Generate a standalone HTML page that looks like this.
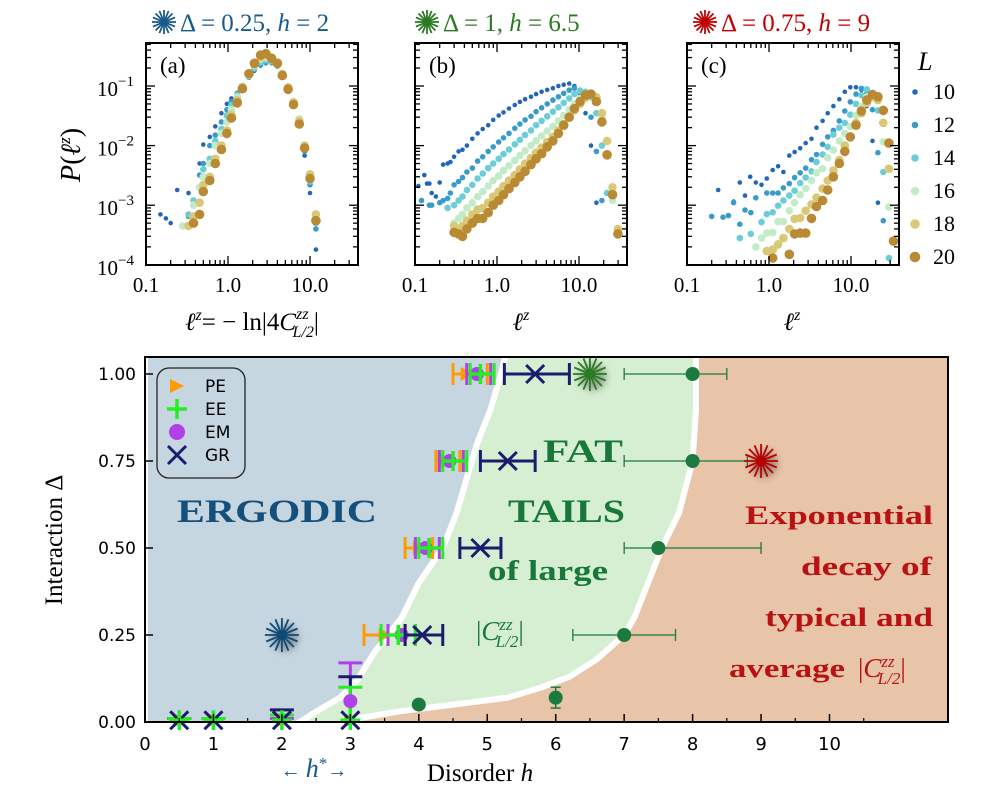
<!DOCTYPE html>
<html><head><meta charset="utf-8"><style>
body{margin:0;background:#fff}
svg text{font-family:"Liberation Serif",serif}
.sans{font-family:"DejaVu Sans","Liberation Sans",sans-serif}
</style></head><body>
<svg id="fig" width="994" height="803" viewBox="0 0 994 803" xmlns="http://www.w3.org/2000/svg">
<defs>
<filter id="glow" x="-1" y="-1" width="3" height="3"><feGaussianBlur stdDeviation="4"/></filter>
</defs>
<g id="topg"></g>
<g id="bot"></g>
</svg>
<script>
// ---------- top panels data ([x, P] pairs) ----------
const Ls = [10,12,14,16,18,20];
const LColors = ["#2166b8","#3a9bcb","#6ccdd6","#c4ebc8","#d9c875","#b98a33"];
const LRadius = [2.3,2.8,3.3,3.8,4.3,4.8];
const panelA_L10=[[0.15,7e-4],[0.175,6e-4],[0.2,5e-4],[0.24,1.8e-3],[0.33,1.6e-3],[0.45,5e-3],[0.5,1.04e-2],[0.6,1.4e-2],[0.7,2.1e-2],[0.83,3.5e-2],[0.97,5e-2],[1.1,6.2e-2],[1.3,7.7e-2],[1.5,0.1],[1.8,0.14],[2.1,0.18],[2.5,0.22],[2.9,0.24],[3.4,0.24],[4.0,0.21],[4.6,0.14],[5.4,0.085],[6.3,0.048],[7.4,0.022],[8.6,6.8e-3],[10,1.6e-3],[11.8,1.8e-4]];
const panelA_L12=[[0.33,6.5e-4],[0.38,1e-3],[0.45,3.2e-3],[0.5,5e-3],[0.6,1e-2],[0.7,1.5e-2],[0.83,2.5e-2],[0.97,4e-2],[1.1,5.5e-2],[1.3,7.5e-2],[1.5,0.1],[1.8,0.14],[2.1,0.19],[2.5,0.23],[2.9,0.25],[3.4,0.25],[4.0,0.22],[4.6,0.15],[5.4,0.09],[6.3,0.05],[7.4,0.024],[8.6,8e-3],[10,2.2e-3],[11.8,4e-4]];
const panelA_L14=[[0.28,4.5e-4],[0.33,7e-4],[0.38,1.2e-3],[0.45,2e-3],[0.5,4e-3],[0.6,6e-3],[0.7,1.2e-2],[0.83,1.9e-2],[0.97,3.2e-2],[1.1,4.8e-2],[1.3,7e-2],[1.5,0.1],[1.8,0.15],[2.1,0.2],[2.5,0.25],[2.9,0.27],[3.4,0.26],[4.0,0.22],[4.6,0.15],[5.4,0.09],[6.3,0.05],[7.4,0.025],[8.6,9e-3],[10,2.5e-3],[11.8,5e-4]];
const panelA_L16=[[0.28,4.5e-4],[0.38,1e-3],[0.45,2e-3],[0.5,3e-3],[0.6,5e-3],[0.7,1e-2],[0.83,1.6e-2],[0.97,2.5e-2],[1.1,4e-2],[1.3,6.5e-2],[1.5,0.1],[1.8,0.15],[2.1,0.22],[2.5,0.28],[2.9,0.3],[3.4,0.28],[4.0,0.23],[4.6,0.16],[5.4,0.095],[6.3,0.055],[7.4,0.028],[8.6,0.01],[10,3e-3],[11.8,6e-4]];
const panelA_L18=[[0.33,4.5e-4],[0.38,6.5e-4],[0.45,1.1e-3],[0.5,2.2e-3],[0.6,3e-3],[0.7,6e-3],[0.83,1e-2],[0.97,1.8e-2],[1.1,3.3e-2],[1.3,5.8e-2],[1.5,0.095],[1.8,0.16],[2.1,0.23],[2.5,0.3],[2.9,0.33],[3.4,0.3],[4.0,0.24],[4.6,0.16],[5.4,0.095],[6.3,0.053],[7.4,0.026],[8.6,0.01],[10,3.3e-3],[11.8,7e-4]];
const panelA_L20=[[0.38,5e-4],[0.45,7e-4],[0.5,1.7e-3],[0.6,2.6e-3],[0.7,5e-3],[0.83,8.6e-3],[0.97,1.6e-2],[1.1,2.9e-2],[1.3,5.2e-2],[1.5,0.09],[1.8,0.16],[2.1,0.24],[2.5,0.33],[2.9,0.35],[3.4,0.29],[4.0,0.24],[4.6,0.15],[5.4,0.088],[6.3,0.049],[7.4,0.023],[8.6,9.1e-3],[10,2.8e-3],[11.8,5.5e-4]];
const panelB_L10=[[0.11,2.1e-3],[0.12,1.2e-3],[0.13,3.2e-3],[0.14,2.3e-3],[0.15,2.3e-3],[0.16,1.6e-3],[0.18,1.4e-3],[0.2,2.4e-3],[0.22,4.8e-3],[0.25,5e-3],[0.27,5.3e-3],[0.3,6.5e-3],[0.34,8e-3],[0.38,8.5e-3],[0.43,1e-2],[0.5,1.3e-2],[0.58,1.6e-2],[0.67,1.9e-2],[0.78,2.2e-2],[0.9,2.7e-2],[1.05,3.2e-2],[1.2,3.6e-2],[1.4,4.2e-2],[1.65,4.8e-2],[1.9,5.4e-2],[2.2,6e-2],[2.6,6.6e-2],[3.0,7.3e-2],[3.5,8e-2],[4.1,8.6e-2],[4.8,9.2e-2],[5.6,0.1],[6.5,0.105],[7.6,0.11],[8.8,0.1],[10.3,0.07],[12,0.035],[14,0.01],[16.3,1.1e-3]];
const panelB_L12=[[0.12,1.2e-3],[0.15,1e-3],[0.16,1e-3],[0.2,1.1e-3],[0.22,1.2e-3],[0.25,1.3e-3],[0.27,1.6e-3],[0.3,2.2e-3],[0.34,2.5e-3],[0.38,2.9e-3],[0.43,3.6e-3],[0.5,4.2e-3],[0.58,5.5e-3],[0.67,6.5e-3],[0.78,8e-3],[0.9,9.5e-3],[1.05,1.15e-2],[1.2,1.35e-2],[1.4,1.6e-2],[1.65,1.95e-2],[1.9,2.3e-2],[2.2,2.7e-2],[2.6,3.1e-2],[3.0,3.7e-2],[3.5,4.3e-2],[4.1,5e-2],[4.8,5.8e-2],[5.6,6.6e-2],[6.5,7.5e-2],[7.6,8.5e-2],[8.8,9.2e-2],[10.3,8.5e-2],[12,6.5e-2],[14,3e-2],[16.3,8e-3],[19,1.2e-3]];
const panelB_L14=[[0.25,9e-4],[0.3,1e-3],[0.34,1.2e-3],[0.38,1.4e-3],[0.43,1.8e-3],[0.5,2.2e-3],[0.58,2.8e-3],[0.67,3.4e-3],[0.78,4.2e-3],[0.9,5e-3],[1.05,6e-3],[1.2,7.2e-3],[1.4,8.6e-3],[1.65,1.05e-2],[1.9,1.25e-2],[2.2,1.5e-2],[2.6,1.8e-2],[3.0,2.2e-2],[3.5,2.6e-2],[4.1,3.1e-2],[4.8,3.7e-2],[5.6,4.4e-2],[6.5,5.2e-2],[7.6,6.2e-2],[8.8,7.3e-2],[10.3,8.2e-2],[12,8e-2],[14,6.5e-2],[16.3,3.5e-2],[19,1e-2],[22,1.6e-3]];
const panelB_L16=[[0.3,5e-4],[0.34,6e-4],[0.38,7e-4],[0.43,9e-4],[0.5,1.1e-3],[0.58,1.4e-3],[0.67,1.7e-3],[0.78,2.1e-3],[0.9,2.6e-3],[1.05,3.1e-3],[1.2,3.8e-3],[1.4,4.6e-3],[1.65,5.6e-3],[1.9,6.8e-3],[2.2,8.2e-3],[2.6,1e-2],[3.0,1.2e-2],[3.5,1.45e-2],[4.1,1.75e-2],[4.8,2.1e-2],[5.6,2.6e-2],[6.5,3.2e-2],[7.6,4e-2],[8.8,5e-2],[10.3,6.2e-2],[12,7.2e-2],[14,7.5e-2],[16.3,6e-2],[19,3e-2],[22,7e-3],[25.6,1.2e-3]];
const panelB_L18=[[0.3,4.5e-4],[0.34,4e-4],[0.38,4.5e-4],[0.43,5.5e-4],[0.5,7e-4],[0.58,8.5e-4],[0.67,9e-4],[0.78,1.1e-3],[0.9,1.4e-3],[1.05,1.7e-3],[1.2,2.1e-3],[1.4,2.6e-3],[1.65,3.2e-3],[1.9,4e-3],[2.2,5e-3],[2.6,6.2e-3],[3.0,7.6e-3],[3.5,9.3e-3],[4.1,1.15e-2],[4.8,1.4e-2],[5.6,1.8e-2],[6.5,2.3e-2],[7.6,3e-2],[8.8,3.9e-2],[10.3,5e-2],[12,6.3e-2],[14,7.2e-2],[16.3,6.5e-2],[19,3.5e-2],[22,1.2e-2],[25.6,2e-3],[29.8,4e-4]];
const panelB_L20=[[0.3,3.5e-4],[0.34,3.3e-4],[0.38,3e-4],[0.43,4e-4],[0.5,5e-4],[0.58,6e-4],[0.67,6e-4],[0.78,7.5e-4],[0.9,1e-3],[1.05,1.2e-3],[1.2,1.5e-3],[1.4,1.9e-3],[1.65,2.4e-3],[1.9,3e-3],[2.2,3.7e-3],[2.6,4.8e-3],[3.0,6e-3],[3.5,7.3e-3],[4.1,9.5e-3],[4.8,1.2e-2],[5.6,1.6e-2],[6.5,2.2e-2],[7.6,3e-2],[8.8,4.2e-2],[10.3,5.5e-2],[12,7e-2],[14,7.3e-2],[16.3,5.5e-2],[19,2.5e-2],[22,7e-3],[25.6,1.5e-3],[29.8,3.3e-4]];
const panelC_L10=[[0.24,1.8e-3],[0.37,1.15e-3],[0.44,2.4e-3],[0.51,1.45e-3],[0.59,3e-3],[0.69,2.4e-3],[0.81,2.2e-3],[0.94,2.8e-3],[1.11,3.9e-3],[1.29,4.5e-3],[1.5,3.6e-3],[1.77,6.8e-3],[2.05,7.8e-3],[2.4,9e-3],[2.8,1.1e-2],[3.3,1.3e-2],[3.8,2e-2],[4.5,2.6e-2],[5.2,3.5e-2],[6.1,4.6e-2],[7.2,6e-2],[8.4,8e-2],[9.8,9.5e-2],[11.5,9.5e-2],[13.4,8.6e-2],[15.6,4.6e-2],[18.3,1.2e-2],[21.3,1.1e-3]];
const panelC_L12=[[0.2,6.5e-4],[0.275,6.3e-4],[0.32,6.7e-4],[0.37,1.1e-3],[0.44,4.8e-4],[0.51,8.3e-4],[0.6,7.5e-4],[0.69,1.33e-3],[0.94,1.6e-3],[1.11,1.6e-3],[1.29,1.6e-3],[1.5,1.95e-3],[1.77,2.3e-3],[2.05,2.9e-3],[2.4,3.5e-3],[2.8,4.2e-3],[3.3,5.8e-3],[3.8,7.1e-3],[4.5,1.05e-2],[5.2,1.4e-2],[6.1,1.8e-2],[7.2,2.6e-2],[8.4,3.8e-2],[9.8,5.4e-2],[11.5,7.3e-2],[13.4,9.1e-2],[15.6,7.5e-2],[18.3,4e-2],[21.3,7.6e-3],[24.8,5.5e-4]];
const panelC_L14=[[0.44,2.8e-4],[0.6,3.3e-4],[0.81,5.2e-4],[0.94,7.1e-4],[1.11,7.6e-4],[1.29,9.8e-4],[1.5,1.2e-3],[1.77,1.45e-3],[2.05,1.75e-3],[2.4,2.35e-3],[2.8,2.9e-3],[3.3,3.7e-3],[3.8,5.3e-3],[4.5,7.1e-3],[5.2,9.5e-3],[6.1,1.53e-2],[7.2,2e-2],[8.4,2.4e-2],[9.8,3.3e-2],[11.5,5e-2],[13.4,7e-2],[15.6,8.8e-2],[18.3,6.6e-2],[21.3,3.9e-2],[24.8,3.6e-3],[29,1.3e-4]];
const panelC_L16=[[0.69,2e-4],[0.81,2.8e-4],[0.94,3.4e-4],[1.11,3.5e-4],[1.29,5.3e-4],[1.5,5.3e-4],[1.77,8.1e-4],[2.05,1.1e-3],[2.4,1.5e-3],[2.8,1.9e-3],[3.3,2.6e-3],[3.8,3.5e-3],[4.5,4.1e-3],[5.2,6.3e-3],[6.1,8.4e-3],[7.2,1.2e-2],[8.4,1.6e-2],[9.8,2.1e-2],[11.5,3.2e-2],[13.4,4.5e-2],[15.6,6.6e-2],[18.3,7.2e-2],[21.3,6.6e-2],[24.8,1.16e-2],[29,9.3e-4]];
const panelC_L18=[[0.94,1.7e-4],[1.11,1.8e-4],[1.29,2.2e-4],[1.5,2.8e-4],[1.77,4e-4],[2.05,5.9e-4],[2.4,6.1e-4],[2.8,8.1e-4],[3.3,1.03e-3],[3.8,1.34e-3],[4.5,1.9e-3],[5.2,2.6e-3],[6.1,3.8e-3],[7.2,5.7e-3],[8.4,1e-2],[9.8,1.4e-2],[11.5,2.4e-2],[13.4,3.5e-2],[15.6,5.2e-2],[18.3,6.6e-2],[21.3,5.8e-2],[24.8,2.4e-2],[29,4.1e-3]];
const panelC_L20=[[1.11,1.3e-4],[1.77,1.5e-4],[2.05,3.3e-4],[2.4,3.4e-4],[2.8,3.4e-4],[3.3,6e-4],[3.8,9.5e-4],[4.5,1.2e-3],[5.2,1.8e-3],[6.1,3e-3],[7.2,5e-3],[8.4,8e-3],[9.8,1.4e-2],[11.5,2.2e-2],[13.4,3.8e-2],[15.6,5.8e-2],[18.3,7.2e-2],[21.3,6.6e-2],[24.8,3.9e-2],[29,1.1e-2],[33,2.5e-4]];
const xTickLabels=["0.1","1.0","10.0"];
const xTickVals=[0.1,1,10];
const yTickExps=[-1,-2,-3,-4];

// ---------- bottom phase diagram data ----------
const deltas=[1.0,0.75,0.5,0.25];
const pe=[4.7,4.4,4.0,3.5], peLo=[4.5,4.25,3.8,3.2], peHi=[5.0,4.6,4.2,3.8];
const ee=[4.9,4.5,4.15,3.7], eeLo=[4.75,4.35,4.0,3.45], eeHi=[5.1,4.7,4.35,3.95];
const em=[4.85,4.45,4.1,3.75], emLo=[4.7,4.3,3.95,3.55], emHi=[5.05,4.65,4.3,3.95];
const gr=[5.7,5.3,4.9,4.05], grLo=[5.25,4.9,4.6,3.8], grHi=[6.2,5.7,5.2,4.35];
const lowH=[0.5,1,2,3];
const lowD=[0.005,0.005,0.005,0.005];
const lowGrTop=[0.01,0.01,0.035,0.13];
const lowEmTop=[0.01,0.01,0.01,0.17];
const lowEeTop=[0.01,0.01,0.02,0.1];
const typH=[4,6,7,7.5,8,8];
const typD=[0.05,0.07,0.25,0.5,0.75,1.0];
const typLo=[4,6,6.25,7,7,7];
const typHi=[4,6,7.75,9,8.8,8.5];
const typDErr=[0,0.03,0,0,0,0];
const starH=[2,6.5,9], starD=[0.25,1.0,0.75];
const starColors=["#0c4a78","#2a7a22","#b80000"];
const xTicksB=[0,1,2,3,4,5,6,7,8,9,10];
const yTicksB=[0,0.25,0.5,0.75,1.0];

const NS="http://www.w3.org/2000/svg";
function mk(parent,tag,attrs,txt){const e=document.createElementNS(NS,tag);for(const k in attrs)e.setAttribute(k,attrs[k]);if(txt!==undefined)e.textContent=txt;parent.appendChild(e);return e;}

// ---------- top ----------
const topG=document.getElementById('topg');
const PX=[146,415,687], PW=212, PT=43, PB=265;
const panels=[
 [panelA_L10,panelA_L12,panelA_L14,panelA_L16,panelA_L18,panelA_L20],
 [panelB_L10,panelB_L12,panelB_L14,panelB_L16,panelB_L18,panelB_L20],
 [panelC_L10,panelC_L12,panelC_L14,panelC_L16,panelC_L18,panelC_L20]];
const titles=[["0.25","2","#1a5a8a"],["1","6.5","#2a7a22"],["0.75","9","#c00000"]];
const letters=["(a)","(b)","(c)"];
panels.forEach((series,pi)=>{
  const x0=PX[pi];
  const xs=v=>x0+(Math.log10(v)+1)*82;
  const ys=v=>86+(-1-Math.log10(v))*59.6;
  const g=mk(topG,'g',{});
  
  
  series.forEach((pts,si)=>{
    const sg=mk(g,'g',{fill:LColors[si]});
    
    
    pts.forEach(p=>{
      const cx=xs(p[0]), cy=ys(p[1]);
      if(cx<x0-2||cx>x0+PW+3||cy>PB+2)return;
      const c=mk(sg,'circle',{cx:cx.toFixed(1),cy:cy.toFixed(1),r:LRadius[si]});
      
      
    });
  });
  const fr=mk(g,'rect',{x:x0,y:PT,width:PW,height:PB-PT,fill:'none',stroke:'#000','stroke-width':2});
  
  
  for(let d=-1;d<=1;d++){for(let m=1;m<10;m++){const v=m*Math.pow(10,d);const x=xs(v);if(x>x0+PW)continue;const len=m===1?9:5;
    mk(g,'line',{x1:x,x2:x,y1:PB,y2:PB-len,stroke:'#000','stroke-width':1.3});
    mk(g,'line',{x1:x,x2:x,y1:PT,y2:PT+len,stroke:'#000','stroke-width':1.3});}}
  for(let d=-5;d<=-1;d++){for(let m=1;m<10;m++){const v=m*Math.pow(10,d);const y=ys(v);if(y<PT||y>PB)continue;const len=m===1?9:5;
    mk(g,'line',{x1:x0,x2:x0+len,y1:y,y2:y,stroke:'#000','stroke-width':1.3});
    mk(g,'line',{x1:x0+PW,x2:x0+PW-len,y1:y,y2:y,stroke:'#000','stroke-width':1.3});}}
  xTickVals.forEach((v,i)=>{const t=mk(g,'text',{x:xs(v),y:292,'font-size':21,'text-anchor':'middle'},xTickLabels[i]);
    });
  if(pi===0){yTickExps.forEach(e=>{const t=mk(g,'text',{x:134,y:ys(Math.pow(10,e))+10,'font-size':21,'text-anchor':'end'});
    
    mk(t,'tspan',{},'10');mk(t,'tspan',{dy:-10,'font-size':15},'−'+(-e));});}
  const lt=mk(g,'text',{x:x0+14,y:PT+30,'font-size':23},letters[pi]);
  
  const tc=titles[pi][2], cx=x0+PW/2;
  const tg=mk(g,'g',{});
  
  const sx=cx-88+(pi===1?-6:0), sy=22;
  for(let k=0;k<8;k++){const a=k*Math.PI/8;mk(tg,'line',{x1:sx-12*Math.cos(a),y1:sy-12*Math.sin(a),x2:sx+12*Math.cos(a),y2:sy+12*Math.sin(a),stroke:tc,'stroke-width':1.8});}
  const tt=mk(tg,'text',{x:sx+16,y:31,'font-size':25,fill:tc});
  mk(tt,'tspan',{},'Δ = '+titles[pi][0]+', ');mk(tt,'tspan',{'font-style':'italic'},'h');mk(tt,'tspan',{},' = '+titles[pi][1]);
});
let t=mk(topG,'text',{transform:'translate(80,155) rotate(-90)','font-size':28,'text-anchor':'middle'});

mk(t,'tspan',{'font-style':'italic'},'P');mk(t,'tspan',{},'(');mk(t,'tspan',{'font-style':'italic'},'ℓ');mk(t,'tspan',{dy:-10,'font-size':17,'font-style':'italic'},'z');mk(t,'tspan',{dy:10},')');
t=mk(topG,'text',{x:252,y:330,'font-size':25,'text-anchor':'middle'});

mk(t,'tspan',{'font-style':'italic'},'ℓ');mk(t,'tspan',{dy:-10,'font-size':16,'font-style':'italic'},'z');mk(t,'tspan',{dy:10},'= −  ln|4');mk(t,'tspan',{'font-style':'italic'},'C');mk(t,'tspan',{dy:-11,'font-size':16,'font-style':'italic'},'zz');mk(t,'tspan',{dx:-16,dy:18,'font-size':16,'font-style':'italic'},'L/2');mk(t,'tspan',{dy:-7},'|');
[521,792].forEach((x,i)=>{const tx=mk(topG,'text',{x:x,y:330,'font-size':25,'text-anchor':'middle'});
 
 mk(tx,'tspan',{'font-style':'italic'},'ℓ');mk(tx,'tspan',{dy:-10,'font-size':16,'font-style':'italic'},'z');});
const lg=mk(topG,'g',{});

mk(lg,'text',{x:918,y:70,'font-size':26,'font-style':'italic'},'L');
Ls.forEach((L,i)=>{const y=99+i*33;mk(lg,'circle',{cx:915,cy:y-7,r:LRadius[i]+0.5,fill:LColors[i]});
 const le=mk(lg,'text',{x:933,y:y,'font-size':22},String(L));
 });

// ---------- bottom ----------
const bot=document.getElementById('bot');
const BL=145,BR=948,BT=357,BB=722;
const X=h=>BL+h*68.45, Y=d=>BB-d*348;
const clip=mk(bot,'clipPath',{id:'bclip'});mk(clip,'rect',{x:BL,y:BT,width:BR-BL,height:BB-BT});
const rg=mk(bot,'g',{'clip-path':'url(#bclip)'});

mk(rg,'rect',{x:BL,y:BT,width:BR-BL,height:BB-BT,fill:'#e8c4a8'});
const bg=[[1.08,5.3],[1.0,5.2],[0.9,5.05],[0.8,4.85],[0.7,4.7],[0.6,4.55],[0.5,4.35],[0.4,4.0],[0.3,3.75],[0.2,3.35],[0.12,3.1],[0.07,2.85],[0.03,2.5],[-0.02,2.1]];
const go=[[1.08,8.05],[0.9,8.05],[0.75,8.0],[0.6,7.8],[0.5,7.55],[0.4,7.35],[0.3,7.15],[0.25,7.0],[0.18,6.6],[0.13,6.2],[0.1,5.8],[0.07,5.3],[0.05,4.5],[0.03,3.7],[0.01,3.1],[-0.02,2.8]];
let gp='M'+X(bg[0][1])+','+Y(bg[0][0]);bg.forEach(p=>gp+=' L'+X(p[1])+','+Y(p[0]));
go.slice().reverse().forEach(p=>gp+=' L'+X(p[1])+','+Y(p[0]));gp+='Z';
mk(rg,'path',{d:gp,fill:'#d6efd2',stroke:'#fff','stroke-width':6,'stroke-linejoin':'round'});
let bp='M'+BL+','+(BT-5);bg.forEach(p=>bp+=' L'+X(p[1])+','+Y(p[0]));bp+=' L'+BL+','+(BB+5)+'Z';
mk(rg,'path',{d:bp,fill:'#c6d6e1',stroke:'#fff','stroke-width':6,'stroke-linejoin':'round'});

function lab(x,y,txt,col,size,w,name){const e=mk(bot,'text',{x:x,y:y,fill:col,'font-size':size,'font-weight':'bold',textLength:w,lengthAdjust:'spacingAndGlyphs'},txt);
 return e;}
lab(177,522,'ERGODIC','#15507d',33,200,'ergodic-label');
lab(543,462,'FAT','#17783a',33,80,'fat-label');
lab(508,522,'TAILS','#17783a',33,117,'tails-label');
lab(488,580,'of large','#17783a',28,120,'of-large-label');
let cz=mk(bot,'text',{x:476,y:640,fill:'#17783a','font-size':27});

mk(cz,'tspan',{},'|');mk(cz,'tspan',{'font-style':'italic'},'C');mk(cz,'tspan',{dy:-10,'font-size':17,'font-style':'italic'},'zz');mk(cz,'tspan',{dx:-17,dy:17,'font-size':17,'font-style':'italic'},'L/2');mk(cz,'tspan',{dy:-7},'|');
lab(745,524,'Exponential','#b81212',26,188,'exp-label-1');
lab(801,575,'decay of','#b81212',26,131,'exp-label-2');
lab(765,626,'typical and','#b81212',26,168,'exp-label-3');
lab(729,677,'average','#b81212',26,116,'exp-label-4');
cz=mk(bot,'text',{x:858,y:677,fill:'#b81212','font-size':27});

mk(cz,'tspan',{},'|');mk(cz,'tspan',{'font-style':'italic'},'C');mk(cz,'tspan',{dy:-10,'font-size':17,'font-style':'italic'},'zz');mk(cz,'tspan',{dx:-17,dy:17,'font-size':17,'font-style':'italic'},'L/2');mk(cz,'tspan',{dy:-7},'|');

const PEc="#ff9a00",EEc="#22ee22",EMc="#b040e8",GRc="#1c1c6e";
function hbar(g,lo,hi,y,col,w,cap){mk(g,'line',{x1:X(lo),x2:X(hi),y1:y,y2:y,stroke:col,'stroke-width':w});
 [lo,hi].forEach(v=>mk(g,'line',{x1:X(v),x2:X(v),y1:y-cap,y2:y+cap,stroke:col,'stroke-width':w}));}
function vbar(g,x,d0,d1,col,w,cap){mk(g,'line',{x1:x,x2:x,y1:Y(d0),y2:Y(d1),stroke:col,'stroke-width':w});
 mk(g,'line',{x1:x-cap,x2:x+cap,y1:Y(d1),y2:Y(d1),stroke:col,'stroke-width':w});}
function tri(g,x,y,col){mk(g,'polygon',{points:(x-6)+','+(y-7)+' '+(x+8)+','+y+' '+(x-6)+','+(y+7),fill:col});}
function plus(g,x,y,col){mk(g,'path',{d:'M'+(x-10)+','+y+'H'+(x+10)+'M'+x+','+(y-10)+'V'+(y+10),stroke:col,'stroke-width':3.5});}
function cross(g,x,y,col){mk(g,'path',{d:'M'+(x-9)+','+(y-9)+'L'+(x+9)+','+(y+9)+'M'+(x+9)+','+(y-9)+'L'+(x-9)+','+(y+9),stroke:col,'stroke-width':3});}
const clip2=mk(bot,'clipPath',{id:'bclip2'});mk(clip2,'rect',{x:BL,y:BT,width:BR-BL,height:BB-BT+8});
const mg=mk(bot,'g',{'clip-path':'url(#bclip2)'});

typH.forEach((h,i)=>{const g=mk(mg,'g',{});
 
 const y=Y(typD[i]);
 if(typHi[i]>typLo[i])hbar(g,typLo[i],typHi[i],y,'#1d7a3e',1.3,6);
 if(typDErr[i]>0){mk(g,'line',{x1:X(h),x2:X(h),y1:Y(typD[i]-typDErr[i]),y2:Y(typD[i]+typDErr[i]),stroke:'#1d7a3e','stroke-width':1.5});
  [typD[i]-typDErr[i],typD[i]+typDErr[i]].forEach(d=>mk(g,'line',{x1:X(h)-5,x2:X(h)+5,y1:Y(d),y2:Y(d),stroke:'#1d7a3e','stroke-width':1.5}));}
 mk(g,'circle',{cx:X(h),cy:y,r:7,fill:'#1d7a3e'});});
starH.forEach((h,i)=>{const g=mk(mg,'g',{});
 
 const cx=X(h),cy=Y(starD[i]);
 mk(g,'circle',{cx:cx+3,cy:cy+3,r:13,fill:'#444',opacity:0.45,filter:'url(#glow)'});
 for(let k=0;k<8;k++){const a=k*Math.PI/8;mk(g,'line',{x1:cx-17*Math.cos(a),y1:cy-17*Math.sin(a),x2:cx+17*Math.cos(a),y2:cy+17*Math.sin(a),stroke:starColors[i],'stroke-width':1.8});}
 mk(g,'circle',{cx:cx,cy:cy,r:5,fill:starColors[i]});});
deltas.forEach((d,i)=>{const y=Y(d);const g=mk(mg,'g',{});
 
 hbar(g,peLo[i],peHi[i],y,PEc,3,11);tri(g,X(pe[i]),y,PEc);
 hbar(g,emLo[i],emHi[i],y,EMc,3,11);mk(g,'circle',{cx:X(em[i]),cy:y,r:7,fill:EMc});
 hbar(g,eeLo[i],eeHi[i],y,EEc,3,11);plus(g,X(ee[i]),y,EEc);
 hbar(g,grLo[i],grHi[i],y,GRc,3,11);cross(g,X(gr[i]),y,GRc);});
lowH.forEach((h,i)=>{const x=X(h),y=Y(lowD[i]);const g=mk(mg,'g',{});
 
 vbar(g,x,lowD[i],lowEmTop[i],EMc,3,12);vbar(g,x,lowD[i],lowGrTop[i],GRc,3,12);vbar(g,x,lowD[i],lowEeTop[i],EEc,3,12);
 tri(g,x,y,PEc);if(i===3)mk(g,'circle',{cx:x,cy:Y(0.06),r:7,fill:EMc});
 cross(g,x,y,GRc);plus(g,x,y,EEc);});
const bf=mk(bot,'rect',{x:BL,y:BT,width:BR-BL,height:BB-BT,fill:'none',stroke:'#000','stroke-width':2});

xTicksB.forEach(v=>{mk(bot,'line',{x1:X(v),x2:X(v),y1:BB,y2:BB-8,stroke:'#000','stroke-width':1.5});
 mk(bot,'line',{x1:X(v+0.5),x2:X(v+0.5),y1:BB,y2:BB-4,stroke:'#000','stroke-width':1.2});
 const tl=mk(bot,'text',{x:X(v),y:750,'font-size':18,'text-anchor':'middle','class':'sans'},String(v));
 });
yTicksB.forEach(v=>{mk(bot,'line',{x1:BL,x2:BL+8,y1:Y(v),y2:Y(v),stroke:'#000','stroke-width':1.5});
 const tl=mk(bot,'text',{x:136,y:Y(v)+6,'font-size':17,'text-anchor':'end','class':'sans'},v.toFixed(2));
 });
t=mk(bot,'text',{transform:'translate(62,540) rotate(-90)','font-size':25,'text-anchor':'middle'});

mk(t,'tspan',{},'Interaction Δ');
t=mk(bot,'text',{x:480,y:781,'font-size':25,'text-anchor':'middle'});

mk(t,'tspan',{},'Disorder ');mk(t,'tspan',{'font-style':'italic'},'h');
t=mk(bot,'text',{x:314,y:777,'font-size':26,'text-anchor':'middle',fill:'#1a5a8a'});

mk(t,'tspan',{'font-size':20},'← ');mk(t,'tspan',{'font-style':'italic'},'h');mk(t,'tspan',{dy:-8,'font-size':17},'*');mk(t,'tspan',{dy:8,'font-size':20},'→');
const bl=mk(bot,'g',{});

mk(bl,'rect',{x:157,y:368,width:88,height:110,rx:12,fill:'#c6d6e1',stroke:'#222','stroke-width':1.3});
const lgNames=["PE","EE","EM","GR"];
lgNames.forEach((n,i)=>{const y=386+i*23;
 if(i===0)tri(bl,176,y,PEc);if(i===1)plus(bl,177,y,EEc);if(i===2)mk(bl,'circle',{cx:177,cy:y,r:8,fill:EMc});if(i===3)cross(bl,177,y,GRc);
 const e=mk(bl,'text',{x:205,y:y+6,'font-size':17,'class':'sans'},n);
 });
</script>
</body></html>
